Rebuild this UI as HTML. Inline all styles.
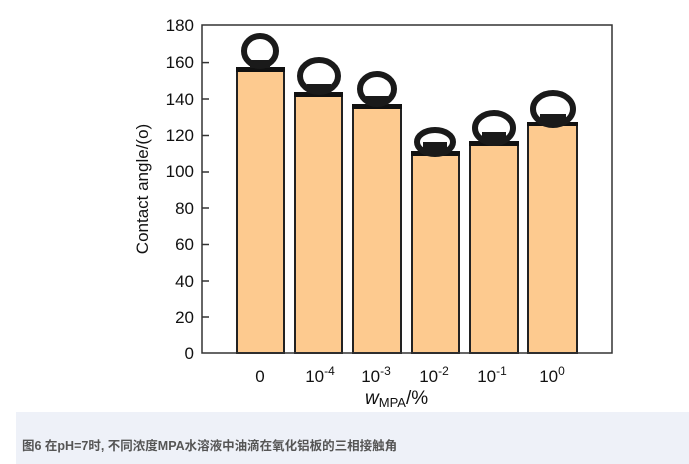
<!DOCTYPE html><html><head><style>body{margin:0;width:689px;height:464px;background:#fff;overflow:hidden;font-family:"Liberation Sans",sans-serif}</style></head><body>
<svg width="689" height="464" style="position:absolute;left:0;top:0" font-family="Liberation Sans, sans-serif">
<rect x="16" y="412" width="673" height="52" fill="#eef1f8"/>
<text x="22" y="450" font-size="12.5" font-weight="bold" fill="#555" font-family="Liberation Sans, Noto Sans CJK SC, sans-serif">图6 在pH=7时, 不同浓度MPA水溶液中油滴在氧化铝板的三相接触角</text>
<g fill="#fdca8f" stroke="#222" stroke-width="2">
<rect x="237" y="70" width="47" height="283"/><rect x="295" y="95" width="47" height="258"/><rect x="353" y="107" width="48" height="246"/><rect x="412" y="155" width="47" height="198"/><rect x="470" y="144" width="48" height="209"/><rect x="528" y="125" width="49" height="228"/>
</g>
<g fill="#111"><rect x="236" y="67" width="49" height="5"/><rect x="294" y="92" width="49" height="5"/><rect x="352" y="104" width="50" height="5"/><rect x="411" y="151" width="49" height="5"/><rect x="469" y="141" width="50" height="5"/><rect x="527" y="122" width="51" height="4"/></g>
<g fill="#1a1a1a">
<rect x="250" y="60" width="20" height="8"/><rect x="307" y="84" width="24" height="9"/><rect x="366" y="96" width="22" height="9"/><rect x="423" y="142" width="24" height="10"/><rect x="482" y="132" width="24" height="10"/><rect x="540" y="114" width="26" height="9"/>
</g>
<g fill="none" stroke="#1a1a1a" stroke-width="6">
<ellipse cx="260" cy="51" rx="16" ry="15"/><ellipse cx="319" cy="76" rx="19" ry="16"/><ellipse cx="377" cy="89" rx="17" ry="15"/><ellipse cx="435" cy="142" rx="18" ry="12"/><ellipse cx="494" cy="128" rx="19" ry="15"/><ellipse cx="553" cy="109" rx="20" ry="16"/>
</g>
<rect x="202" y="25" width="410" height="328" fill="none" stroke="#333" stroke-width="1.5"/>
<g stroke="#333" stroke-width="1.5">
<line x1="202" y1="62.6" x2="209" y2="62.6"/><line x1="202" y1="99" x2="209" y2="99"/><line x1="202" y1="135.5" x2="209" y2="135.5"/><line x1="202" y1="172" x2="209" y2="172"/><line x1="202" y1="208" x2="209" y2="208"/><line x1="202" y1="244.5" x2="209" y2="244.5"/><line x1="202" y1="281" x2="209" y2="281"/><line x1="202" y1="317" x2="209" y2="317"/>
</g>
<g font-size="17" fill="#111" text-anchor="end">
<text x="194" y="31">180</text><text x="194" y="68">160</text><text x="194" y="105">140</text><text x="194" y="141">120</text><text x="194" y="177">100</text><text x="194" y="214">80</text><text x="194" y="250">60</text><text x="194" y="287">40</text><text x="194" y="323">20</text><text x="194" y="359">0</text>
</g>
<text transform="translate(148,189) rotate(-90)" font-size="17" text-anchor="middle" fill="#111">Contact angle/(o)</text>
<g font-size="17" fill="#111" text-anchor="middle">
<text x="260" y="382">0</text>
<text x="320" y="382">10<tspan font-size="12" dy="-7">-4</tspan></text>
<text x="376" y="382">10<tspan font-size="12" dy="-7">-3</tspan></text>
<text x="434" y="382">10<tspan font-size="12" dy="-7">-2</tspan></text>
<text x="492" y="382">10<tspan font-size="12" dy="-7">-1</tspan></text>
<text x="552" y="382">10<tspan font-size="12" dy="-7">0</tspan></text>
</g>
<text x="365" y="404" font-size="19" fill="#111"><tspan font-style="italic">w</tspan><tspan font-size="13" dy="3">MPA</tspan><tspan dy="-3">/%</tspan></text>
</svg>
</body></html>
